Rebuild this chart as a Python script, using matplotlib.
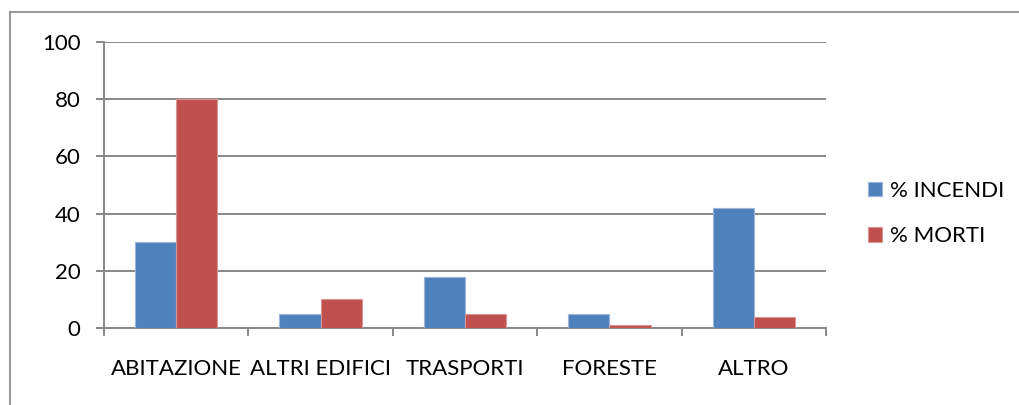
import numpy as np
import matplotlib.pyplot as plt
from matplotlib.lines import Line2D

categorie = ["ABITAZIONE", "ALTRI EDIFICI", "TRASPORTI", "FORESTE", "ALTRO"]
incendi = [30, 5, 18, 5, 42]
morti = [80, 10, 5, 1, 4]
serie = ["% INCENDI", "% MORTI"]

plt.rcParams['font.family'] = ['Lato', 'DejaVu Sans']

fig = plt.figure(figsize=(10.19, 4.05), dpi=100)
ax = fig.add_axes([104 / 1019, 77 / 405, 722 / 1019, 286 / 405])

x = np.arange(len(categorie)) + 0.5
w = 0.286
grid_col = "#888888"

ax.bar(x - w / 2, incendi, w, color="#4F81BD", edgecolor="#9DB6D8", linewidth=0.8, label=serie[0], zorder=3)
ax.bar(x + w / 2, morti, w, color="#C0504D", edgecolor="#D99593", linewidth=0.8, label=serie[1], zorder=3)

ax.set_xlim(0, 5)
ax.set_ylim(0, 100)
ax.set_yticks(range(0, 101, 20))
ax.yaxis.grid(True, color=grid_col, linewidth=1.4, zorder=0)
ax.set_xticks(x)
ax.set_xticklabels(categorie)
ax.set_xticks(np.arange(0, 6), minor=True)
ax.tick_params(axis='x', which='major', length=0, pad=22, labelsize=16)
ax.tick_params(axis='x', which='minor', length=6, width=1.4, color=grid_col, direction='out')
ax.tick_params(axis='y', length=6, width=1.4, color=grid_col, pad=11, labelsize=16)

for s in ["top", "right"]:
    ax.spines[s].set_visible(False)
for s in ["left", "bottom"]:
    ax.spines[s].set_color(grid_col)
    ax.spines[s].set_linewidth(1.4)

ax.legend(loc='center left', bbox_to_anchor=(1.03, 0.4), frameon=False, fontsize=16,
          handlelength=0.65, handleheight=0.65, handletextpad=0.35, labelspacing=1.15)

# gray frame around the chart
fig.add_artist(Line2D([10 / 1019, 10 / 1019], [0, 1 - 12 / 405], color="#999999", linewidth=1.5, transform=fig.transFigure))
fig.add_artist(Line2D([10 / 1019, 1], [1 - 12 / 405, 1 - 12 / 405], color="#999999", linewidth=1.5, transform=fig.transFigure))

fig.savefig("out.png", dpi=100)
